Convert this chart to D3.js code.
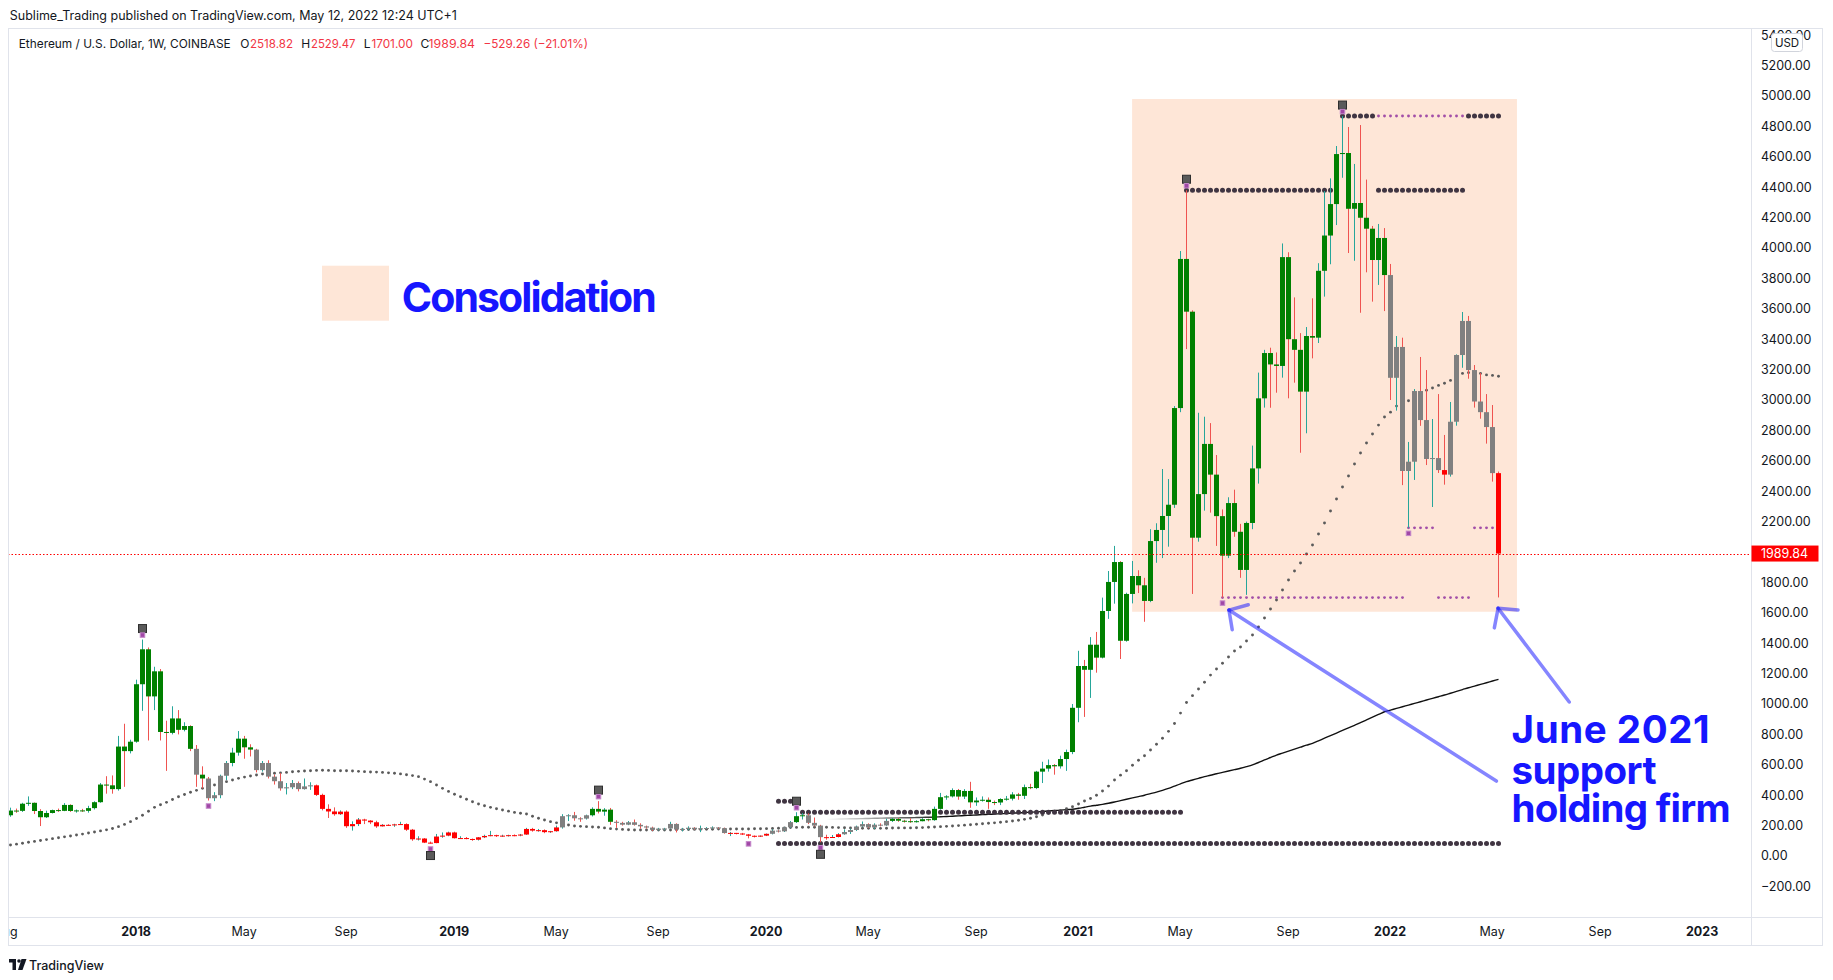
<!DOCTYPE html>
<html>
<head>
<meta charset="utf-8">
<script src="https://cdn.jsdelivr.net/npm/d3@7/dist/d3.min.js"></script>
<style>
html,body{margin:0;padding:0;background:#ffffff;}
svg{display:block;font-family:Inter,"Noto Sans",sans-serif;}
</style>
</head>
<body>
<svg id="chart" width="1833" height="980"></svg>
<script>
// ---------------- DATA ----------------
const firstWeek = "2017-08-07";   // weekly bars, Monday open
// [open, high, low, close] per week
const c2017 = [
[268,318,258,299],[299,312,284,297],[297,350,290,344],[344,392,330,350],[350,352,276,296],
[296,308,197,255],[255,298,250,283],[283,305,280,302],[302,312,290,297],[297,348,295,336],
[336,340,290,296],[296,306,285,300],[300,310,290,297],[297,330,285,315],[315,360,306,354],
[354,480,350,470],[470,525,410,465],[465,530,410,440],[440,790,430,720],[720,870,455,690],
[690,765,675,752]];
const c2018 = [
[752,1160,745,1130],[1130,1424,955,1360],[1360,1372,760,1050],[1050,1245,960,1215],[1215,1230,760,816],
[816,890,560,810],[810,985,800,905],[905,960,800,830],[830,880,820,855],[855,860,690,705],
[705,730,455,535],[535,590,445,510],[510,520,365,380],[380,420,361,400],[400,535,380,528],
[528,625,500,612],[612,712,590,680],[680,822,660,772],[772,790,640,715],[715,735,655,700],
[700,705,550,565],[565,625,555,612],[612,630,510,522],[522,535,470,492],[492,545,430,445],
[445,480,405,452],[452,500,440,480],[480,490,425,440],[440,510,437,458],[458,485,435,465],
[465,470,395,402],[402,410,300,310],[310,340,250,293],[293,320,265,275],[275,300,270,292],
[292,300,185,196],[196,228,167,210],[210,250,197,240],[240,245,210,233],[233,236,210,222],
[222,232,185,195],[195,210,194,205],[205,209,198,203],[203,212,192,208],[208,225,205,210],
[210,215,165,173],[173,178,100,110],[110,130,102,115],[115,118,85,88],[88,95,82,85],
[85,145,84,128],[128,155,120,134],[134,160,130,155]];
const c2019 = [
[155,160,115,117],[117,130,114,118],[118,125,110,112],[112,115,100,107],[107,125,102,123],
[123,140,118,132],[132,165,130,137],[137,140,125,133],[133,140,126,134],[134,140,128,137],
[137,142,130,135],[135,145,130,141],[141,185,139,178],[178,185,160,167],[167,178,160,170],
[170,175,150,157],[157,165,152,163],[163,200,160,188],[188,275,180,262],[262,275,230,268],
[268,290,232,248],[248,255,225,246],[246,272,240,268],[268,320,260,310],[310,361,280,292],
[292,315,265,305],[305,316,205,225],[225,235,185,218],[218,225,200,206],[206,230,203,222],
[222,240,200,205],[205,215,180,195],[195,200,180,187],[187,193,165,172],[172,185,168,180],
[180,185,170,181],[181,225,180,211],[211,215,155,174],[174,185,162,178],[178,195,170,186],
[186,190,172,175],[175,200,157,182],[182,190,178,184],[184,195,180,188],[188,190,178,183],
[183,186,147,151],[151,158,131,152],[152,152,142,148],[148,152,138,142],[142,145,116,133],
[133,135,122,128],[128,135,125,134]];
const c2020 = [
[134,148,131,146],[146,175,142,167],[167,170,155,162],[162,190,158,189],[189,230,185,223],
[223,288,217,262],[262,282,240,268],[268,280,210,218],[218,253,195,200],[200,205,90,124],
[124,140,107,123],[123,138,120,125],[125,150,122,143],[143,175,140,158],[158,180,145,171],
[171,200,165,194],[194,227,190,210],[210,215,183,188],[188,215,178,206],[206,215,195,201],
[201,245,198,231],[231,250,224,244],[244,250,225,232],[232,238,220,229],[229,248,218,225],
[225,235,220,229],[229,249,228,242],[242,245,228,236],[236,325,232,310],[310,415,305,387],
[387,400,370,392],[392,445,385,434],[434,441,370,391],[391,440,375,428],[428,488,317,353],
[353,385,330,365],[365,392,358,370],[370,385,310,355],[355,365,335,352],[352,380,335,375],
[375,395,364,377],[377,420,365,405],[405,415,370,396],[396,470,375,453],[453,475,440,447],
[447,560,440,555],[555,620,480,575],[575,635,555,598],[598,605,535,590],[590,660,575,638],
[638,700,560,684],[684,1000,670,975]];
const c2021 = [
[975,1350,880,1250],[1250,1290,915,1225],[1225,1440,1040,1390],[1390,1474,1206,1305],[1305,1700,1300,1612],
[1612,1875,1560,1803],[1803,2040,1660,1934],[1934,1940,1296,1416],[1416,1732,1410,1724],[1724,1941,1662,1842],
[1842,1880,1730,1781],[1781,1830,1541,1678],[1678,2150,1670,2072],[2072,2189,1929,2145],[2145,2546,1960,2237],
[2237,2480,2035,2311],[2311,2960,2290,2947],[2947,3980,2920,3928],[3928,4380,3335,3581],[3581,3590,1724,2094],
[2094,2916,2068,2381],[2381,2890,2272,2711],[2711,2848,2259,2509],[2509,2638,2040,2236],[2236,2280,1700,1976],
[1976,2360,1960,2322],[2322,2410,2100,2133],[2133,2185,1830,1882],[1882,2200,1718,2191],[2191,2700,2150,2550],
[2550,3180,2450,3011],[3011,3330,2950,3309],[3309,3344,2949,3234],[3234,3313,3048,3224],[3224,4030,3147,3940],
[3940,3972,3011,3400],[3400,3675,3114,3330],[3330,3440,2653,3055],[3055,3480,2781,3421],[3421,3669,3274,3410],
[3410,3900,3375,3850],[3850,4375,3680,4082],[4082,4458,3893,4289],[4289,4671,4151,4618],[4618,4868,4462,4625],
[4625,4796,3967,4258],[4258,4553,3916,4296],[4296,4809,3574,4199],[4199,4450,3840,4127],[4127,4145,3647,3921],
[3921,4158,3757,4066],[4066,4131,3585,3822]];
const c2022 = [
[3822,3895,3000,3146],[3146,3421,2930,3349],[3349,3410,2440,2533],[2533,2724,2159,2594],[2594,3072,2474,3059],
[3059,3283,2830,2868],[2868,3197,2572,2612],[2612,2875,2296,2618],[2618,3039,2520,2539],[2539,2770,2443,2509],
[2509,2987,2496,2857],[2857,3300,2831,3296],[3296,3579,3212,3520],[3520,3553,3140,3197],[3197,3230,2950,2990],
[2990,3178,2877,2920],[2920,3039,2713,2822],[2822,2967,2463,2519],[2518.82,2529.47,1701.00,1989.84]];

// body colour state per bar (G = trend up, R = trend down, N = neutral), run-length
const barColorRuns = [["G",31],["N",1],["G",1],["N",4],["G",4],["N",10],["R",41],["N",5],["G",4],["N",19],
  ["R",7],["N",4],["G",2],["N",3],["R",3],["N",8],["G",83],["N",9],["R",1],["N",8],["R",1]];

// 50-week SMA (dotted) read per bar
const sma50 = [
72,78,84,90,96,102,108,114,120,126,132,138,144,151,158,165,172,181,193,208,226,
247,268,294,320,337,353,372,390,405,419,432,445,456,467,478,489,500,511,519,526,
533,539,542,544,547,550,554,557,559,561,563,564,563,561,561,561,559,557,555,553,
552,550,547,544,540,535,529,522,506,489,467,445,425,406,390,373,357,342,331,320,
311,303,295,287,281,276,262,248,237,226,218,211,204,197,195,193,191,189,185,180,
177,175,173,171,171,171,171,171,171,171,172,173,174,175,175,176,176,177,177,178,
178,178,178,179,179,180,181,183,185,187,188,189,189,189,189,189,188,187,186,185,
184,183,182,182,182,183,184,185,185,
185,186,187,189,191,193,195,197,200,203,206,209,212,215,218,222,226,230,235,241,248,
258,270,281,290,299,311,324,342,362,378,400,428,460,500,532,561,597,630,660,697,735,775,820,872,940,1010,1055,1099,1143,1190,1230,1268,
1309,1349,1375,1414,1454,1507,1566,1625,1684,1750,1816,1875,1928,1987,2046,2118,2191,2270,2349,2428,2500,2579,2651,2717,2776,2835,2888,2920,2960,2985,
2995,3020,3045,3064,3079,3096,3110,3129,3150,3175,3180,3178,3175,3165,3162,3156];

// 200-week SMA (solid) read per bar, starting at bar 136
const sma200StartBar = 136;
const sma200 = [
241,242,243,244,245,245,246,247,248,249,250,250,251,252,252,253,254,255,256,258,
260,262,264,266,268,270,272,274,276,278,280,282,284,286,288,290,293,296,299,302,
305,308,314,321,328,334,340,347,355,364,373,382,391,400,410,420,432,445,460,475,
489,500,511,522,531,541,550,559,568,577,588,600,615,632,648,664,677,690,703,716,
729,741,758,775,792,809,826,843,860,877,895,913,931,949,960,971,982,993,1004,1015,
1026,1037,1048,1059,1071,1083,1095,1107,1118,1129,1140,1151,1162];

// pivot levels: [price, fromBar, toBar]
const bigDotLevels = [[4868,222,227],[4868,243,248],[4380,196,220],[4380,228,242],[361,128,130],[288,132,195],[82,128,248]];
const smallDotLevels = [[4868,228,242],[1700,202,232],[1700,238,243],[2159,233,237],[2159,244,247]];
const pivotHighBars = [22,98,131,196,222];
const pivotLowBars = [33,70,123,135,202,233];
const strongLowBars = [70,135];

const priceTicks = [5400,5200,5000,4800,4600,4400,4200,4000,3800,3600,3400,3200,3000,2800,2600,2400,2200,2000,1800,1600,1400,1200,1000,800,600,400,200,0,-200];
const timeTicks = [["2017-08-02","Aug",0],["2018-01-01","2018",1],["2018-05-07","May",0],["2018-09-03","Sep",0],
  ["2019-01-07","2019",1],["2019-05-06","May",0],["2019-09-02","Sep",0],["2020-01-06","2020",1],["2020-05-04","May",0],
  ["2020-09-07","Sep",0],["2021-01-04","2021",1],["2021-05-03","May",0],["2021-09-06","Sep",0],["2022-01-03","2022",1],
  ["2022-05-02","May",0],["2022-09-05","Sep",0],["2023-01-02","2023",1]];
const zoneDates = ["2021-03-08","2022-05-31"];
const zonePrices = [4980,1607];
const lastPrice = 1989.84;
const arrowTips = [["2021-06-29",1618],["2022-05-09",1630]];
const arrowTails = [["2022-05-07",493],["2022-07-31",1013]];
const noteLines = ["June 2021","support","holding firm"];
const legendValues = [["O","2518.82"],["H","2529.47"],["L","1701.00"],["C","1989.84"]];

// ---------------- SETUP ----------------
const candles = [].concat(c2017,c2018,c2019,c2020,c2021,c2022);
const barColor = [];
barColorRuns.forEach(([k,n])=>{for(let j=0;j<n;j++) barColor.push(k);});
const parse = d3.utcParse("%Y-%m-%d");
const t0 = parse(firstWeek);
const barDate = i => d3.utcDay.offset(t0, 7*i);

const PL=8, PT=28, PR=1751, PB=917, AR=1822, AB=945;
const x = d3.scaleUtc().domain([parse("2017-08-07"), parse("2023-01-02")]).range([10.1, 1702.1]);
const y = d3.scaleLinear().domain([0,5000]).range([856,96]);
const cx = i => Math.round(x(barDate(i)));

const BODY = {G:"#008000", R:"#ff0000", N:"#808080"};
const UP="#26a69a", DOWN="#ef5350";

const svg = d3.select("#chart");
svg.append("rect").attr("width",1833).attr("height",980).attr("fill","#fff");
const defs = svg.append("defs");
defs.append("clipPath").attr("id","plot").append("rect")
  .attr("x",PL).attr("y",PT).attr("width",PR-PL).attr("height",PB-PT);
defs.append("clipPath").attr("id","taxis").append("rect")
  .attr("x",PL+1).attr("y",PB).attr("width",PR-PL-1).attr("height",AB-PB);
const grad = defs.append("linearGradient").attr("id","fadeIn").attr("gradientUnits","userSpaceOnUse")
  .attr("x1",cx(sma200StartBar)).attr("x2",cx(sma200StartBar+20)).attr("y1",0).attr("y2",0);
grad.append("stop").attr("offset",0).attr("stop-color","#111").attr("stop-opacity",0);
grad.append("stop").attr("offset",1).attr("stop-color","#111").attr("stop-opacity",1);

const plot = svg.append("g").attr("clip-path","url(#plot)");

// consolidation zone
plot.append("rect")
  .attr("x", x(parse(zoneDates[0]))).attr("y", y(zonePrices[0]))
  .attr("width", x(parse(zoneDates[1]))-x(parse(zoneDates[0])))
  .attr("height", y(zonePrices[1])-y(zonePrices[0]))
  .attr("fill","#fee6d7");

// 200 SMA
plot.append("path")
  .datum(sma200)
  .attr("d", d3.line().x((d,k)=>cx(sma200StartBar+k)+0.5).y(d=>y(d)).curve(d3.curveMonotoneX))
  .attr("fill","none").attr("stroke","url(#fadeIn)").attr("stroke-width",1.4);

// 50 SMA dots
plot.append("g").selectAll("circle").data(sma50).join("circle")
  .attr("cx",(d,i)=>cx(i)+0.5).attr("cy",d=>y(d)).attr("r",1.45).attr("fill","#5a5a5a");

// pivot level dots
const bigG = plot.append("g");
bigDotLevels.forEach(([p,a,b])=>{
  bigG.selectAll(null).data(d3.range(a,b+1)).join("circle")
    .attr("cx",i=>cx(i)+0.5).attr("cy",y(p)).attr("r",2.5).attr("fill","#403542");
});
const smallG = plot.append("g");
smallDotLevels.forEach(([p,a,b])=>{
  smallG.selectAll(null).data(d3.range(a,b+1)).join("circle")
    .attr("cx",i=>cx(i)+0.5).attr("cy",y(p)).attr("r",1.45).attr("fill","#a24fa8");
});

// candles
const cg = plot.append("g");
const bars = cg.selectAll("g").data(candles).join("g");
bars.append("line")
  .attr("x1",(d,i)=>cx(i)+0.5).attr("x2",(d,i)=>cx(i)+0.5)
  .attr("y1",d=>y(d[1])).attr("y2",d=>y(d[2]))
  .attr("stroke",d=>d[3]>=d[0]?UP:DOWN).attr("stroke-width",1);
bars.append("rect")
  .attr("x",(d,i)=>cx(i)-2).attr("width",5)
  .attr("y",d=>Math.min(y(d[0]),y(d[3])))
  .attr("height",d=>Math.max(1,Math.abs(y(d[0])-y(d[3]))))
  .attr("fill",(d,i)=>BODY[barColor[i]]);

// pivot markers
const mg = plot.append("g");
function square(px,py,s,fill,stroke){
  mg.append("rect").attr("x",px-s/2).attr("y",py-s/2).attr("width",s).attr("height",s)
    .attr("fill",fill).attr("stroke",stroke).attr("stroke-width",1);
}
pivotHighBars.forEach(i=>{
  const px=cx(i)+0.5, py=y(candles[i][1]);
  square(px,py-11,8,"#5a5a5a","#2e2e2e");
  square(px,py-4.5,4.5,"#a047a6","#c486c9");
});
pivotLowBars.forEach(i=>{
  const px=cx(i)+0.5, py=y(candles[i][2]);
  square(px,py+5.5,4.5,"#a047a6","#c486c9");
  if(strongLowBars.includes(i)) square(px,py+12,8,"#5a5a5a","#2e2e2e");
});

// last price line
plot.append("line").attr("x1",PL).attr("x2",PR).attr("y1",Math.round(y(lastPrice))+0.5).attr("y2",Math.round(y(lastPrice))+0.5)
  .attr("stroke","#ff0000").attr("stroke-width",1).attr("stroke-dasharray","1.5,2");

// annotation arrows
const ag = svg.append("g");
arrowTips.forEach((tp,k)=>{
  const tx=x(parse(tp[0])), ty=y(tp[1]);
  const sx=x(parse(arrowTails[k][0])), sy=y(arrowTails[k][1]);
  const ang=Math.atan2(sy-ty,sx-tx), L=20, sp=48*Math.PI/180;
  const p1=[tx+L*Math.cos(ang-sp),ty+L*Math.sin(ang-sp)], p2=[tx+L*Math.cos(ang+sp),ty+L*Math.sin(ang+sp)];
  [[sx,sy],p1,p2].forEach(pt=>{
    ag.append("line").attr("x1",pt[0]).attr("y1",pt[1]).attr("x2",tx).attr("y2",ty)
      .attr("stroke","#2020ff").attr("stroke-opacity",0.55).attr("stroke-width",3.5).attr("stroke-linecap","round");
  });
});

// note text
const noteBase = [743.3,783.6,821.7], noteW=[198,145,219];
noteLines.forEach((t,k)=>{
  svg.append("text").attr("x",1511.6).attr("y",noteBase[k]).text(t)
    .attr("font-size",38.5).attr("font-weight",700).attr("fill","#1616ff")
    .attr("textLength",noteW[k]).attr("lengthAdjust","spacing");
});

// zone legend
svg.append("rect").attr("x",322).attr("y",265.7).attr("width",67).attr("height",55).attr("fill","#fee6d7");
svg.append("text").attr("x",401.7).attr("y",311.7).text("Consolidation")
  .attr("font-size",41).attr("font-weight",700).attr("fill","#1616ff")
  .attr("textLength",255).attr("lengthAdjust","spacing");

// frame
const fr = svg.append("g").attr("stroke","#e0e3eb").attr("stroke-width",1).attr("fill","none");
fr.append("rect").attr("x",PL+0.5).attr("y",PT+0.5).attr("width",AR-PL).attr("height",AB-PT);
fr.append("line").attr("x1",PR+0.5).attr("x2",PR+0.5).attr("y1",PT).attr("y2",AB);
fr.append("line").attr("x1",PL).attr("x2",AR).attr("y1",PB+0.5).attr("y2",PB+0.5);

// price axis
const tickY = y(lastPrice);
const pa = svg.append("g").attr("font-size",12.5).attr("fill","#131722");
priceTicks.filter(v=>Math.abs(y(v)-tickY)>12).forEach(v=>{
  pa.append("text").attr("x",1761).attr("y",y(v)).attr("dy","0.35em")
    .text((v<0?"\u2212":"")+Math.abs(v).toFixed(2));
});
svg.append("rect").attr("x",1751.5).attr("y",tickY-8).attr("width",67).attr("height",16).attr("fill","#ff0000");
svg.append("text").attr("x",1761).attr("y",tickY).attr("dy","0.35em").attr("font-size",12.5).attr("fill","#fff").text(lastPrice.toFixed(2));
svg.append("rect").attr("x",1771.5).attr("y",33.5).attr("width",31).attr("height",18).attr("rx",3)
  .attr("fill","#fff").attr("stroke","#d1d4dc");
svg.append("text").attr("x",1787).attr("y",42.5).attr("dy","0.35em").attr("text-anchor","middle")
  .attr("font-size",11.5).attr("fill","#131722").text("USD");

// time axis
const ta = svg.append("g").attr("clip-path","url(#taxis)").attr("font-size",12.5).attr("fill","#131722");
timeTicks.forEach(([d,t,yr])=>{
  ta.append("text").attr("x",x(parse(d))).attr("y",932).attr("dy","0.35em").attr("text-anchor","middle")
    .attr("font-weight",yr?700:400).text(t);
});

// header + legend
svg.append("text").attr("x",9.8).attr("y",19.5).attr("font-size",12.5).attr("fill","#131722")
  .text("Sublime_Trading published on TradingView.com, May 12, 2022 12:24 UTC+1");
const lg = svg.append("g").attr("font-size",12);
lg.append("text").attr("x",18.7).attr("y",47.5).attr("fill","#131722")
  .attr("textLength",212).attr("lengthAdjust","spacingAndGlyphs").text("Ethereum / U.S. Dollar, 1W, COINBASE");
const legX = [[240.2,250],[301.3,311],[363.8,371.4],[420.5,428.6]];
const legW = [43,44.5,41.5,46.5];
legendValues.forEach(([k,v],j)=>{
  lg.append("text").attr("x",legX[j][0]).attr("y",47.5).attr("fill","#131722").text(k);
  lg.append("text").attr("x",legX[j][1]).attr("y",47.5).attr("fill","#f23645")
    .attr("textLength",legW[j]).attr("lengthAdjust","spacingAndGlyphs").text(v);
});
lg.append("text").attr("x",483.5).attr("y",47.5).attr("fill","#f23645")
  .attr("textLength",104.5).attr("lengthAdjust","spacingAndGlyphs").text("\u2212529.26 (\u221221.01%)");

// TradingView logo
const logo = svg.append("g").attr("fill","#131722");
logo.append("rect").attr("x",9).attr("y",959).attr("width",7).attr("height",3.5);
logo.append("rect").attr("x",12.5).attr("y",959).attr("width",3.5).attr("height",11);
logo.append("circle").attr("cx",19).attr("cy",961).attr("r",1.8);
logo.append("path").attr("d","M21.5,959 L26.5,959 L22.5,970 L18,970 Z");
svg.append("text").attr("x",29).attr("y",969.5).attr("font-size",12.5).attr("font-weight",500).attr("fill","#131722").text("TradingView");
</script>
</body>
</html>
